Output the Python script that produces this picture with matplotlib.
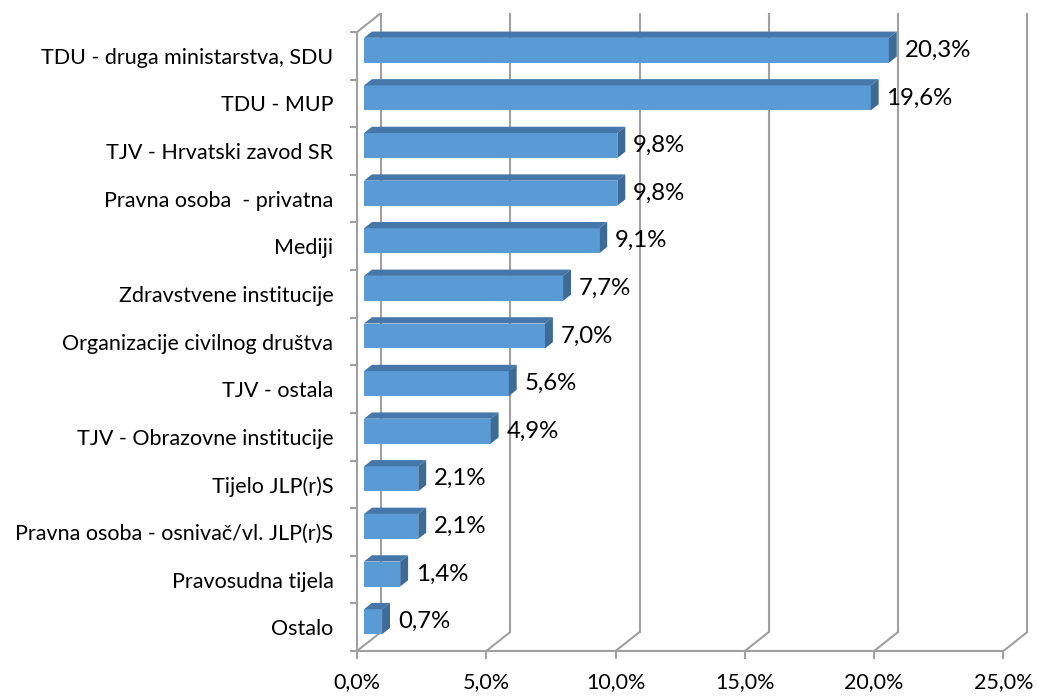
import matplotlib.pyplot as plt
from matplotlib.patches import Polygon, Rectangle

# ── Data ─────────────────────────────────────────────────────────
categories = [
    'TDU - druga ministarstva, SDU',
    'TDU - MUP',
    'TJV - Hrvatski zavod SR',
    'Pravna osoba  - privatna',
    'Mediji',
    'Zdravstvene institucije',
    'Organizacije civilnog društva',
    'TJV - ostala',
    'TJV - Obrazovne institucije',
    'Tijelo JLP(r)S',
    'Pravna osoba - osnivač/vl. JLP(r)S',
    'Pravosudna tijela',
    'Ostalo',
]
values = [20.3, 19.6, 9.8, 9.8, 9.1, 7.7, 7.0, 5.6, 4.9, 2.1, 2.1, 1.4, 0.7]
value_labels = ['20,3%', '19,6%', '9,8%', '9,8%', '9,1%', '7,7%', '7,0%',
                '5,6%', '4,9%', '2,1%', '2,1%', '1,4%', '0,7%']
x_ticks = [0, 5, 10, 15, 20, 25]
x_tick_labels = ['0,0%', '5,0%', '10,0%', '15,0%', '20,0%', '25,0%']

# ── Style ────────────────────────────────────────────────────────
plt.rcParams['font.family'] = ['Lato', 'DejaVu Sans']
FS = 15.5
FS_VAL = 17.3
GRID = '#a0a0a0'
FRONT = '#5b9bd5'
TOP = '#4577aa'
SIDE = '#3e6b96'

# 3D depth of the plot box (in data units) and bar depth fractions
DX, DY = 0.93, 0.40
F1, F2 = 0.29, 0.62
H = 0.525

n = len(categories)
ypos = list(range(n - 1, -1, -1))  # first category on top

fig = plt.figure(figsize=(10.37, 6.99), dpi=100)
ax = fig.add_axes([357 / 1037, 48 / 699, (1030 - 357) / 1037, (686 - 48) / 699])
ax.set_xlim(0, 25 + DX + 0.1)
ax.set_ylim(-0.5, n - 0.5 + DY)

# ── Walls / gridlines ────────────────────────────────────────────
lw = 1.5
for v in x_ticks:
    ax.plot([v, v + DX], [-0.5, -0.5 + DY], color=GRID, lw=lw, zorder=1,
            solid_capstyle='butt')
    ax.plot([v + DX, v + DX], [-0.5 + DY, n - 0.5 + DY], color=GRID, lw=lw,
            zorder=1)
ax.plot([0, DX], [n - 0.5, n - 0.5 + DY], color=GRID, lw=lw, zorder=1)

for s in ['top', 'right']:
    ax.spines[s].set_visible(False)
ax.spines['bottom'].set_bounds(0, 25)
ax.spines['left'].set_bounds(-0.5, n - 0.5)
for s in ['bottom', 'left']:
    ax.spines[s].set_color(GRID)
    ax.spines[s].set_linewidth(lw)

ax.set_xticks(x_ticks)
ax.set_xticklabels(x_tick_labels, fontsize=FS)
ax.tick_params(axis='x', direction='out', length=6, width=lw, color=GRID,
               pad=9)
ax.set_yticks([i - 0.5 for i in range(n + 1)])
ax.set_yticklabels([])
ax.tick_params(axis='y', which='major', direction='out', length=5, width=lw,
               color=GRID)
ax.set_yticks(ypos, minor=True)
ax.set_yticklabels(categories, minor=True, fontsize=FS)
ax.tick_params(axis='y', which='minor', length=0, pad=17)

# ── Bars ─────────────────────────────────────────────────────────
ddx, ddy = (F2 - F1) * DX, (F2 - F1) * DY
for y, v, lab in zip(ypos, values, value_labels):
    x0 = F1 * DX
    yb = y - H / 2 + F1 * DY
    yt = yb + H
    ax.add_patch(Rectangle((x0, yb), v, H, facecolor=FRONT, edgecolor='none',
                           zorder=3))
    ax.add_patch(Polygon([(x0, yt), (x0 + v, yt), (x0 + v + ddx, yt + ddy),
                          (x0 + ddx, yt + ddy)], closed=True, facecolor=TOP,
                         edgecolor='none', zorder=3))
    ax.add_patch(Polygon([(x0 + v, yb), (x0 + v, yt), (x0 + v + ddx, yt + ddy),
                          (x0 + v + ddx, yb + ddy)], closed=True, facecolor=SIDE,
                         edgecolor='none', zorder=3))
    ax.text(x0 + v + ddx + 0.3, y + F1 * DY, lab, fontsize=FS_VAL, va='center',
            ha='left', zorder=4)

fig.savefig('out.png', dpi=100)
